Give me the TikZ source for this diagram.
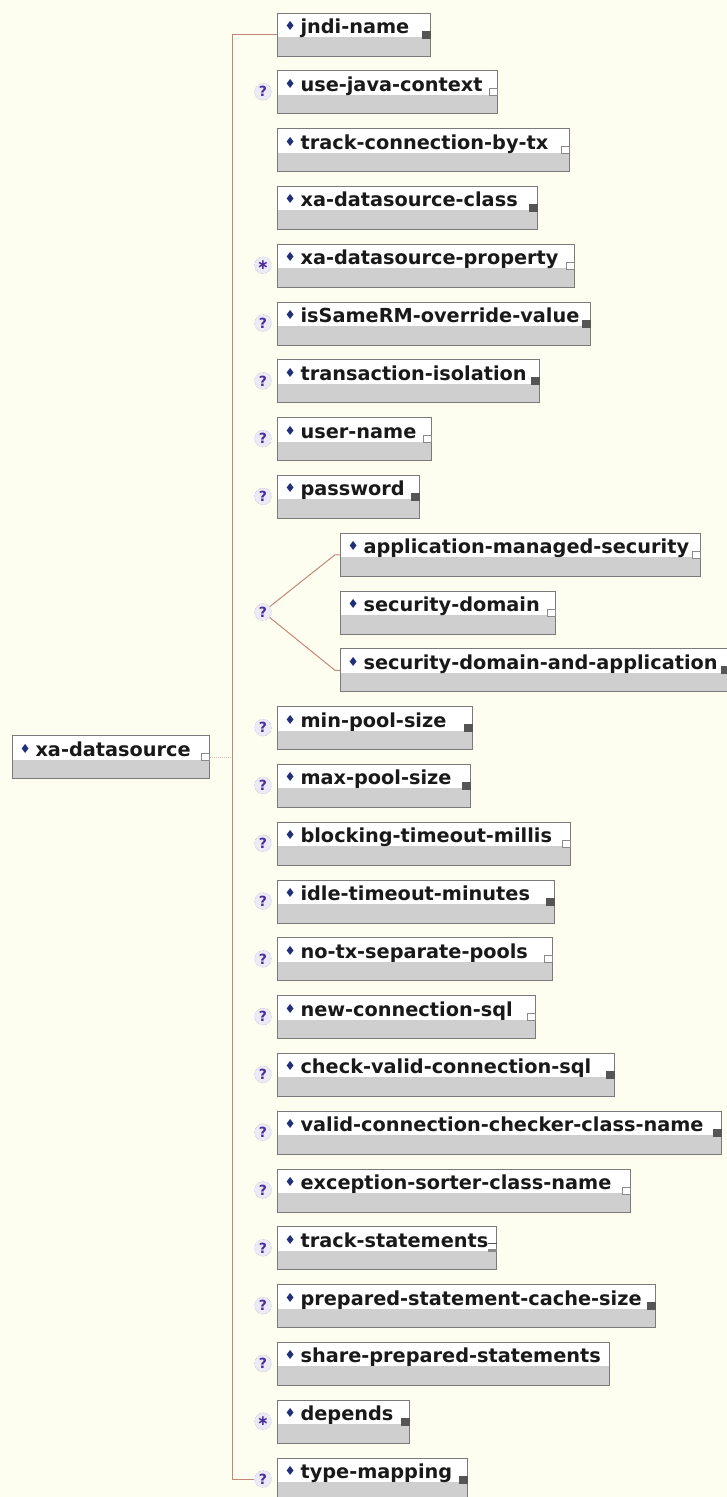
\documentclass[tikz,border=0pt]{standalone}
\usepackage{fontspec}
\setmainfont{DejaVu Sans}
\usepackage{tikz}
\usetikzlibrary{positioning}
\definecolor{Cream}{HTML}{FEFEF0}
\definecolor{Navy}{HTML}{1F2F7A}
\definecolor{Edge}{HTML}{7A7A7A}
\definecolor{Shade}{HTML}{CFCFCF}
\definecolor{Link}{HTML}{C4877A}
\definecolor{QFill}{HTML}{ECEAF6}
\definecolor{QEdge}{HTML}{A4A4BC}
\definecolor{QText}{HTML}{4B2E9E}
\definecolor{IconDark}{HTML}{555555}
\definecolor{IconLine}{HTML}{8A8A8A}

\newcommand{\dia}{\makebox[16pt][l]{\textcolor{Navy}{\fontsize{12.5}{12}\selectfont\raisebox{3pt}{♦}}}}
\newcommand{\icd}{\raisebox{-5pt}{\textcolor{IconDark}{\rule{9pt}{8pt}}}}
\newcommand{\icl}{\raisebox{-5pt}{\textcolor{IconLine}{\rule{9pt}{8pt}}}\hspace{-8pt}\raisebox{-4pt}{\textcolor{white}{\rule{7pt}{6pt}}}\hspace{1pt}}
\newcommand{\icb}{\raisebox{3pt}{\textcolor{IconDark}{\rule{9pt}{1.6pt}}}\hspace{-9pt}\raisebox{-5pt}{\textcolor{IconLine}{\rule{9pt}{3pt}}}}
\newcommand{\icn}{}
\newcommand{\lbl}[3]{\hspace{7pt}\dia\makebox[\dimexpr#1pt-26pt\relax][l]{#2\hfill\csname ic#3\endcsname}\hspace{3pt}}

\begin{document}
\begin{tikzpicture}[x=1pt,y=-1pt,
  elem/.style={draw=Edge,line width=1.1pt,fill=white,anchor=north west,
    minimum height=43pt,inner sep=0pt,text height=20.5pt,text depth=22.5pt,
    font=\bfseries\fontsize{19.3}{20}\selectfont,text=black!90,
    path picture={\fill[Shade] (path picture bounding box.south west)
      rectangle ([yshift=19pt]path picture bounding box.south east);}},
  qmark/.style={circle,minimum size=17pt,inner sep=0pt,fill=QFill,
    draw=QEdge,densely dotted,font=\bfseries\fontsize{14}{14}\selectfont,text=QText},
  link/.style={Link,line width=1pt}]
  \fill[Cream] (0,0) rectangle (727,1497);
  \useasboundingbox (0,0) rectangle (727,1497);
  \coordinate (spine) at (232,0);

  % root element
  \node[elem] (root) at (12,735) {\lbl{200}{xa-datasource}{l}};

  % sequence children
  \foreach \r/\nm/\w/\ic in {0/jndi-name/156/d, 1/use-java-context/223/l,
      2/track-connection-by-tx/295/l, 3/xa-datasource-class/263/d,
      4/xa-datasource-property/300/l, 5/isSameRM-override-value/316/d,
      6/transaction-isolation/265/d, 7/user-name/157/l, 8/password/145/d,
      12/min-pool-size/198/d, 13/max-pool-size/196/d,
      14/blocking-timeout-millis/296/l, 15/idle-timeout-minutes/280/d,
      16/no-tx-separate-pools/278/l, 17/new-connection-sql/261/l,
      18/check-valid-connection-sql/340/d,
      19/valid-connection-checker-class-name/447/d,
      20/exception-sorter-class-name/356/l, 21/track-statements/222/b,
      22/prepared-statement-cache-size/381/d,
      23/share-prepared-statements/335/n, 24/depends/135/d,
      25/type-mapping/193/d}
    \node[elem] (e\r) at (277,{12.5+57.8*\r}) {\lbl{\w}{\nm}{\ic}};

  % choice children
  \foreach \r/\nm/\w/\ic [count=\k] in {9/application-managed-security/363/l,
      10/security-domain/218/l, 11/security-domain-and-application/392/d}
    \node[elem] (c\k) at (340,{12.5+57.8*\r}) {\lbl{\w}{\nm}{\ic}};

  % occurrence marks
  \node[qmark] (ch) at (263,{34+57.8*10}) {?};
  \foreach \r in {1,5,6,7,8,12,13,14,15,16,17,18,19,20,21,22,23,25}
    \node[qmark] (q\r) at (263,{34+57.8*\r}) {?};
  \foreach \r in {4,24}
    \node[qmark] (q\r) at (263,{34+57.8*\r}) {∗};

  % connectors
  \draw[link] (e0.west) -| (spine |- q25.west) -- (q25.west);
  \draw[link,densely dotted,Link!55] (root.east) -- (root.east -| spine);
  \draw[link] (ch) -- ([xshift=-5pt]c1.west) -- (c1.west);
  \draw[link] (ch) -- ([xshift=-5pt]c3.west) -- (c3.west);
\end{tikzpicture}
\end{document}
